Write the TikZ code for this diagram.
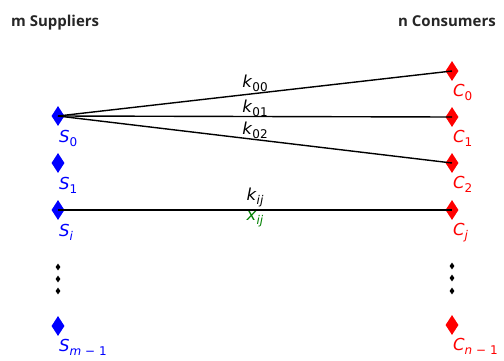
\documentclass[tikz,border=0pt]{standalone}
\usepackage{fontspec}
\setmainfont{DejaVu Sans}
\newfontfamily\titlefont{Open Sans}
\usetikzlibrary{shapes.geometric}
\newcommand\lbl[2]{\textit{#1}\raisebox{-0.25em}{\fontsize{12}{12}\selectfont #2}}
\definecolor{mgreen}{RGB}{0,128,0}
\tikzset{
  mk/.style={diamond,fill=#1,draw=none,inner sep=0pt,minimum width=13pt,minimum height=20pt},
  dotmk/.style={diamond,fill=black,draw=none,inner sep=0pt,minimum width=5pt,minimum height=7pt},
  slab/.style={anchor=base west,inner sep=0pt,text=blue,font=\fontsize{16.5}{16.5}\selectfont},
  clab/.style={anchor=base west,inner sep=0pt,text=red,font=\fontsize{16.5}{16.5}\selectfont},
  elab/.style={anchor=base,inner sep=0pt,font=\fontsize{16.5}{16.5}\selectfont},
  title/.style={anchor=base west,inner sep=0pt,font=\titlefont\bfseries\fontsize{15}{15}\selectfont,text=black!85},
  edge/.style={line width=1.4pt,black}
}
\begin{document}
\begin{tikzpicture}[x=1pt,y=-1pt]
\useasboundingbox (0,0) rectangle (504,360);
\node[title] (t1) at (11,26) {m Suppliers};
\node[title,anchor=base east] (t2) at (496,26) {n Consumers};
% suppliers
\node[mk=blue] (S0) at (58,116) {};
\node[mk=blue] (S1) at (58,163) {};
\node[mk=blue] (Si) at (58,210) {};
\node[mk=blue] (Sm) at (58,326) {};
\node[dotmk] (sd1) at (58,267) {};
\node[dotmk] (sd2) at (58,279) {};
\node[dotmk] (sd3) at (58,291) {};
% consumers
\node[mk=red] (C0) at (452,71) {};
\node[mk=red] (C1) at (452,117) {};
\node[mk=red] (C2) at (452,163) {};
\node[mk=red] (Cj) at (452,210) {};
\node[mk=red] (Cn) at (452,325) {};
\node[dotmk] (cd1) at (452,266) {};
\node[dotmk] (cd2) at (452,278) {};
\node[dotmk] (cd3) at (452,291) {};
% labels
\node[slab] (lS0) at (59,142) {\lbl{S}{0}};
\node[slab] (lS1) at (59,189) {\lbl{S}{1}};
\node[slab] (lSi) at (59,236) {\lbl{S}{\textit{i}}};
\node[slab] (lSm) at (59,351) {\lbl{S}{\textit{m} − 1}};
\node[clab] (lC0) at (453,96) {\lbl{C}{0}};
\node[clab] (lC1) at (453,142) {\lbl{C}{1}};
\node[clab] (lC2) at (453,188) {\lbl{C}{2}};
\node[clab] (lCj) at (453,235) {\lbl{C}{\textit{j}}};
\node[clab] (lCn) at (453,350) {\lbl{C}{\textit{n} − 1}};
% edges
\draw[edge] (S0.center) -- (C0.center);
\draw[edge] (S0.center) -- (C1.center);
\draw[edge] (S0.center) -- (C2.center);
\draw[edge] (Si.center) -- (Cj.center);
\node[elab] (k00) at (255,87) {\lbl{k}{00}};
\node[elab] (k01) at (255,112) {\lbl{k}{01}};
\node[elab] (k02) at (255,134) {\lbl{k}{02}};
\node[elab] (kij) at (255,200) {\lbl{k}{\textit{ij}}};
\node[elab,text=mgreen] (xij) at (255,220) {\lbl{x}{\textit{ij}}};
\end{tikzpicture}
\end{document}
